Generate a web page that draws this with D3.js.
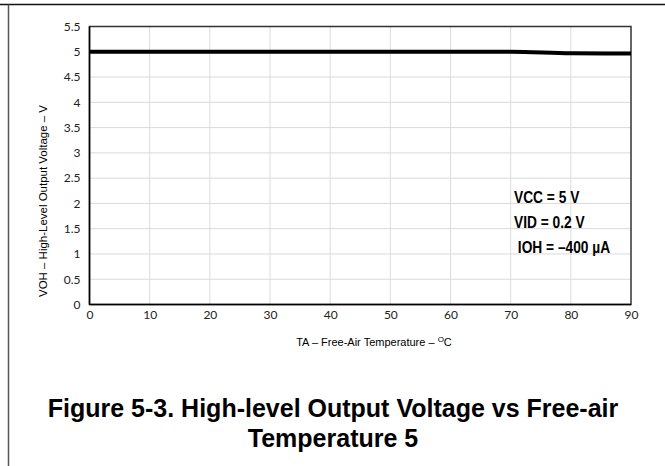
<!DOCTYPE html>
<html><head><meta charset="utf-8">
<script src="https://cdn.jsdelivr.net/npm/d3@7"></script>
<style>body{margin:0;background:#fff}</style>
</head><body>
<script>
const temps = [0, 10, 20, 30, 40, 50, 60, 70, 80, 90];
const voh = [5.0, 5.0, 5.0, 5.0, 5.0, 5.0, 5.0, 5.0, 4.97, 4.965];
const xTicks = [0, 10, 20, 30, 40, 50, 60, 70, 80, 90];
const yTicks = [0, 0.5, 1, 1.5, 2, 2.5, 3, 3.5, 4, 4.5, 5, 5.5];
const notes = ["VCC = 5 V", "VID = 0.2 V", " IOH = \u2013400 \u00b5A"];
const yTitle = "VOH \u2013 High-Level Output Voltage \u2013 V";
const titleLines = ["Figure 5-3. High-level Output Voltage vs Free-air", "Temperature 5"];

const W = 665, H = 466;
const svg = d3.select("body").append("svg").attr("width", W).attr("height", H);
const x = d3.scaleLinear().domain([0, 90]).range([89.5, 631]);
const y = d3.scaleLinear().domain([0, 5.5]).range([304.5, 26.5]);
const tickFont = "Lato, 'Open Sans', sans-serif";

// frame lines
svg.append("line").attr("x1", 0).attr("x2", W).attr("y1", 4.5).attr("y2", 4.5).attr("stroke", "#111").attr("stroke-width", 1.5);
svg.append("line").attr("x1", 8.5).attr("x2", 8.5).attr("y1", 4.5).attr("y2", H).attr("stroke", "#555").attr("stroke-width", 1.5);

// grid
svg.append("g").selectAll("line").data(yTicks.filter(d => d > 0 && d < 5.5)).join("line")
  .attr("x1", x(0)).attr("x2", x(90)).attr("y1", d => y(d)).attr("y2", d => y(d))
  .attr("stroke", "#d9d9d9").attr("stroke-width", 1);
svg.append("g").selectAll("line").data(xTicks.filter(d => d > 0 && d < 90)).join("line")
  .attr("x1", d => x(d)).attr("x2", d => x(d)).attr("y1", y(0)).attr("y2", y(5.5))
  .attr("stroke", "#dcdcdc").attr("stroke-width", 1);

// plot border
svg.append("rect").attr("x", x(0)).attr("y", y(5.5)).attr("width", x(90) - x(0)).attr("height", y(0) - y(5.5))
  .attr("fill", "none").attr("stroke", "#333").attr("stroke-width", 1.5);
svg.append("line").attr("x1", x(0)).attr("x2", x(90)).attr("y1", y(0)).attr("y2", y(0)).attr("stroke", "#000").attr("stroke-width", 1.5);
svg.append("line").attr("x1", x(0)).attr("x2", x(0)).attr("y1", y(0)).attr("y2", y(5.5)).attr("stroke", "#000").attr("stroke-width", 1.5);

// axes (labels only)
const yAxis = d3.axisLeft(y).tickValues(yTicks).tickSize(0).tickPadding(9).tickFormat(d => String(d));
const gy = svg.append("g").attr("transform", `translate(${x(0)},0)`).call(yAxis);
gy.select(".domain").remove();
gy.selectAll("text").attr("font-family", tickFont).attr("font-size", 12).attr("fill", "#222");

const xAxis = d3.axisBottom(x).tickValues(xTicks).tickSize(0).tickPadding(6).tickFormat(d => String(d));
const gx = svg.append("g").attr("transform", `translate(0,${y(0)})`).call(xAxis);
gx.select(".domain").remove();
gx.selectAll("text").attr("font-family", tickFont).attr("font-size", 12).attr("fill", "#222");

// data line
const line = d3.line().x((d, i) => x(temps[i])).y(d => y(d)).curve(d3.curveMonotoneX);
svg.append("path").datum(voh).attr("d", line).attr("fill", "none").attr("stroke", "#000").attr("stroke-width", 4);

// axis titles
svg.append("text").attr("transform", `translate(47,201) rotate(-90)`).attr("text-anchor", "middle")
  .attr("font-family", "'Liberation Sans', Arial, sans-serif").attr("font-size", 11)
  .attr("textLength", 192).attr("lengthAdjust", "spacingAndGlyphs").attr("fill", "#000").text(yTitle);
const xt = svg.append("text").attr("x", 374).attr("y", 346).attr("text-anchor", "middle")
  .attr("font-family", "'Liberation Sans', Arial, sans-serif").attr("font-size", 11).attr("fill", "#000");
xt.append("tspan").text("TA \u2013 Free-Air Temperature \u2013 ");
xt.append("tspan").attr("dy", -4).attr("font-size", 8).text("O");
xt.append("tspan").attr("dy", 4).text("C");

// annotation
svg.append("g").attr("transform", "translate(514,0) scale(0.86,1)").selectAll("text").data(notes).join("text")
  .attr("x", 0).attr("y", (d, i) => 203 + i * 25)
  .attr("font-family", "'Liberation Sans', Arial, sans-serif").attr("font-weight", "bold")
  .attr("font-size", 16).attr("fill", "#000").attr("xml:space", "preserve").style("white-space", "pre").text(d => d);

// figure title
svg.append("g").selectAll("text").data(titleLines).join("text")
  .attr("x", 333).attr("y", (d, i) => 417 + i * 30).attr("text-anchor", "middle")
  .attr("font-family", "'Liberation Sans', Arial, sans-serif").attr("font-weight", "bold")
  .attr("font-size", 25).attr("fill", "#000").text(d => d);
</script>
</body></html>
